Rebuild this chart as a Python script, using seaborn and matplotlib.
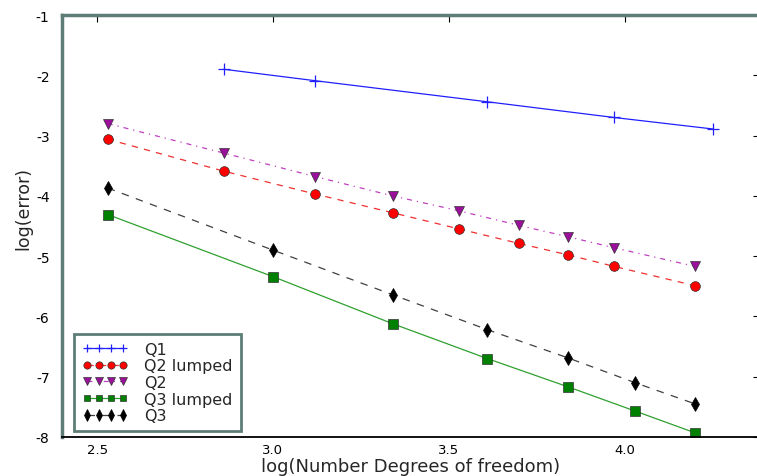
import matplotlib
matplotlib.use("Agg")
import matplotlib.pyplot as plt
import seaborn as sns

# valores
x_q1 = [2.86, 3.12, 3.61, 3.97, 4.25]
y_q1 = [-1.90, -2.09, -2.44, -2.70, -2.89]

x_q2 = [2.53, 2.86, 3.12, 3.34, 3.53, 3.70, 3.84, 3.97, 4.20]
y_q2 = [-2.80, -3.29, -3.68, -4.00, -4.25, -4.49, -4.68, -4.86, -5.17]
y_q2_lumped = [-3.06, -3.59, -3.97, -4.28, -4.55, -4.79, -4.98, -5.17, -5.49]

x_q3 = [2.53, 3.00, 3.34, 3.61, 3.84, 4.03, 4.20]
y_q3 = [-3.87, -4.90, -5.64, -6.22, -6.69, -7.10, -7.45]
y_q3_lumped = [-4.31, -5.34, -6.12, -6.70, -7.17, -7.57, -7.93]

x_ticks = [2.5, 3.0, 3.5, 4.0]
y_ticks = [-1, -2, -3, -4, -5, -6, -7, -8]

sns.set_style("white")
plt.rcParams["axes.unicode_minus"] = False
plt.rcParams["font.family"] = ["DejaVu Sans"]

frame_color = "#5e7d77"

fig = plt.figure(figsize=(7.57, 4.77), dpi=100)
ax = fig.add_axes([62 / 757, 39 / 477, 698 / 757, 422 / 477])

sns.lineplot(x=x_q1, y=y_q1, ax=ax, label="Q1", color="#2020ff", linewidth=0.9,
             marker="+", markersize=8, markeredgewidth=0.9, markeredgecolor="#2020ff")
sns.lineplot(x=x_q2, y=y_q2_lumped, ax=ax, label="Q2 lumped", color="#f03030", linewidth=0.9,
             linestyle=(0, (5, 5)), marker="o", markersize=7, markerfacecolor="#ff0000",
             markeredgecolor="#333333", markeredgewidth=0.5)
sns.lineplot(x=x_q2, y=y_q2, ax=ax, label="Q2", color="#c040c0", linewidth=0.9,
             linestyle=(0, (4, 4, 1, 4)), marker="v", markersize=7, markerfacecolor="#9a109a",
             markeredgecolor="#333333", markeredgewidth=0.5)
sns.lineplot(x=x_q3, y=y_q3_lumped, ax=ax, label="Q3 lumped", color="#30a030", linewidth=0.9,
             marker="s", markersize=6.5, markerfacecolor="#008000",
             markeredgecolor="#333333", markeredgewidth=0.5)
sns.lineplot(x=x_q3, y=y_q3, ax=ax, label="Q3", color="#404040", linewidth=0.9,
             linestyle=(0, (6, 6)), marker="d", markersize=7.5, markerfacecolor="black",
             markeredgecolor="black", markeredgewidth=0.5)

ax.set_xlim(2.4, 4.385)
ax.set_ylim(-8, -1)
ax.set_xticks(x_ticks)
ax.set_xticklabels([f"{t:.1f}" for t in x_ticks])
ax.set_yticks(y_ticks)
ax.set_yticklabels([str(t) for t in y_ticks])
ax.tick_params(direction="in", length=5, width=0.8, top=True, right=True,
               labelsize=10, colors="black")
ax.tick_params(axis="y", pad=9)
ax.tick_params(axis="x", pad=4, labelsize=9.5)

ax.set_xlabel("log(Number Degrees of freedom)", fontsize=13)
ax.set_ylabel("log(error)", fontsize=12.5)
ax.xaxis.set_label_coords(0.5, -0.048)
ax.yaxis.set_label_coords(-0.043, 0.545)

for side in ["left", "top"]:
    ax.spines[side].set_color(frame_color)
    ax.spines[side].set_linewidth(2.5)
ax.spines["bottom"].set_color("black")
ax.spines["bottom"].set_linewidth(1.3)
ax.spines["right"].set_color(frame_color)

leg = ax.legend(loc="lower left", bbox_to_anchor=(0.017, 0.014), borderaxespad=0,
                fontsize=11.5, numpoints=4, markerscale=0.75, handlelength=2.9,
                handletextpad=1.0, labelspacing=0.1, borderpad=0.5,
                fancybox=False, framealpha=1)
leg.get_frame().set_edgecolor(frame_color)
leg.get_frame().set_linewidth(2)

fig.savefig("out.png", dpi=100)
